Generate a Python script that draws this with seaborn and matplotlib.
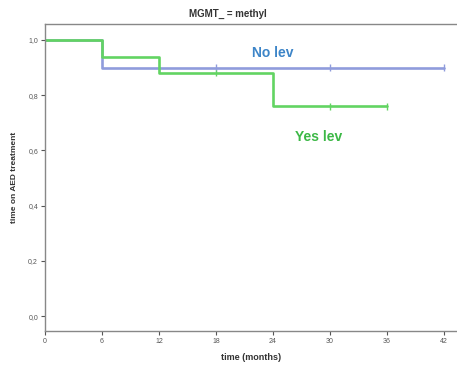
import matplotlib
matplotlib.use("Agg")
import matplotlib.pyplot as plt
import seaborn as sns
import pandas as pd

# Kaplan-Meier step data
no_lev_time = [0, 6, 42]
no_lev_surv = [1.0, 0.90, 0.90]
no_lev_cens_time = [18, 30, 42]
no_lev_cens_surv = [0.90, 0.90, 0.90]

yes_lev_time = [0, 6, 12, 24, 36]
yes_lev_surv = [1.0, 0.94, 0.88, 0.76, 0.76]
yes_lev_cens_time = [18, 30, 36]
yes_lev_cens_surv = [0.88, 0.76, 0.76]

x_ticks = [0, 6, 12, 18, 24, 30, 36, 42]
y_ticks = [0.0, 0.2, 0.4, 0.6, 0.8, 1.0]
y_tick_labels = ["0,0", "0,2", "0,4", "0,6", "0,8", "1,0"]

blue_line = "#8f9cdc"
green_line = "#62d462"

sns.set_style("white")
plt.rcParams['font.family'] = ['Liberation Sans', 'DejaVu Sans']

df = pd.concat([
    pd.DataFrame({"time": no_lev_time, "surv": no_lev_surv, "group": "No lev"}),
    pd.DataFrame({"time": yes_lev_time, "surv": yes_lev_surv, "group": "Yes lev"}),
])
cens = pd.concat([
    pd.DataFrame({"time": no_lev_cens_time, "surv": no_lev_cens_surv, "group": "No lev"}),
    pd.DataFrame({"time": yes_lev_cens_time, "surv": yes_lev_cens_surv, "group": "Yes lev"}),
])
palette = {"No lev": blue_line, "Yes lev": green_line}

fig = plt.figure(figsize=(4.57, 3.72), dpi=100)
ax = fig.add_axes([45/457, 41/372, 1 - 45/457, (331-24)/372])

sns.lineplot(data=df, x="time", y="surv", hue="group", palette=palette,
             drawstyle="steps-post", linewidth=1.9, ax=ax, legend=False,
             estimator=None, sort=False)
sns.scatterplot(data=cens, x="time", y="surv", hue="group", palette=palette,
                marker="|", s=22, linewidth=1.0, ax=ax, legend=False, zorder=5)

ax.set_xlim(0, 43.4)
ax.set_ylim(-0.054, 1.058)
ax.set_xticks(x_ticks)
ax.set_xticklabels([str(t) for t in x_ticks])
ax.set_yticks(y_ticks)
ax.set_yticklabels(y_tick_labels)
ax.tick_params(axis="both", labelsize=5, colors="#555555", length=3, width=0.8,
               direction="out", pad=2)
ax.tick_params(bottom=True, left=True)

for s in ["left", "bottom", "top"]:
    ax.spines[s].set_color("#888888")
    ax.spines[s].set_linewidth(1.0)
ax.spines["right"].set_visible(False)

ax.set_xlabel("time (months)", fontsize=6.5, fontweight="bold", color="#333333", labelpad=6)
ax.set_ylabel("time on AED treatment", fontsize=6, fontweight="bold", color="#333333", labelpad=7)
fig.text(228/457, 1 - 14/372, "MGMT_ = methyl", ha="center", va="center",
         fontsize=7, fontweight="bold", color="#333333")

ax.text(24, 0.953, "No lev", color="#3d85c8", fontsize=10, fontweight="bold",
        ha="center", va="center")
ax.text(28.8, 0.65, "Yes lev", color="#3cb846", fontsize=10, fontweight="bold",
        ha="center", va="center")

fig.savefig("out.png", dpi=100)
